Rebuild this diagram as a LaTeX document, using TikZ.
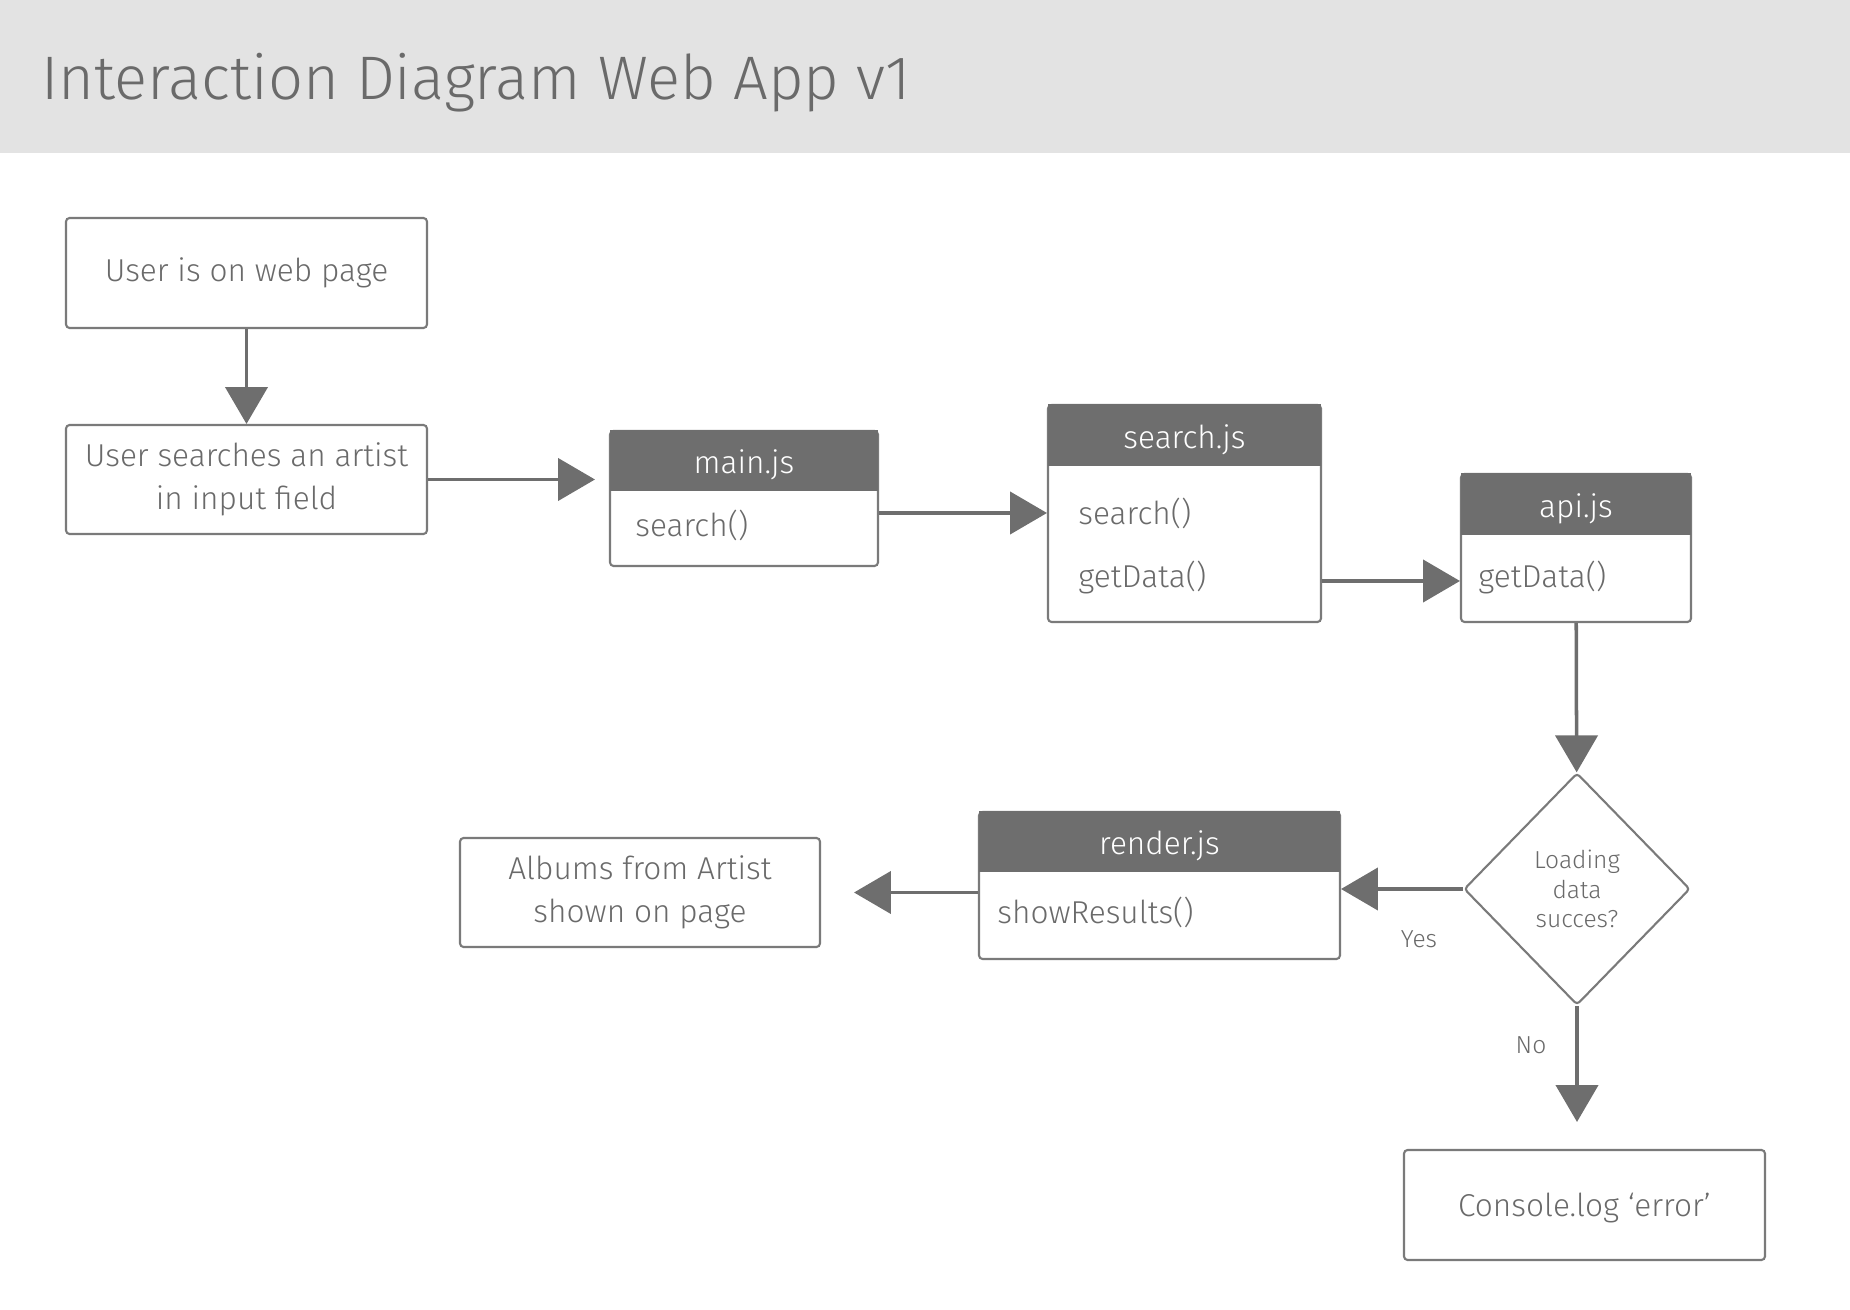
\documentclass[tikz,border=0pt]{standalone}
\usepackage{fontspec}
\setmainfont{Fira Sans Light}
\usetikzlibrary{arrows.meta,shapes.geometric,calc}
\definecolor{bannergray}{HTML}{E3E3E3}
\definecolor{headgray}{HTML}{6E6E6E}
\definecolor{textgray}{HTML}{6A6A6A}
\definecolor{linegray}{HTML}{7A7A7A}

\begin{document}
\begin{tikzpicture}[x=0.02cm,y=-0.02cm,
  box/.style={draw=linegray,line width=1.2pt,rounded corners=2pt,text=textgray,align=center,inner sep=0pt,font=\fontsize{18}{24.5}\selectfont},
  head/.style={fill=headgray,text=white,anchor=north,minimum height=1.22cm,inner sep=0pt,text height=14.6pt,text depth=0pt,font=\fontsize{18}{22}\selectfont},
  member/.style={anchor=west,text=textgray,inner sep=0pt,font=\fontsize{18}{22}\selectfont},
  flow/.style={draw=headgray,line width=2pt,-{Triangle[width=24pt,length=21pt]}},
  answer/.style={text=textgray,font=\fontsize{14}{17}\selectfont}]
\useasboundingbox (0,0) rectangle (1850,1310);
\fill[bannergray] (0,0) rectangle (1850,153);
\node[anchor=base west,inner sep=0pt,text=textgray,font=\fontsize{35}{40}\selectfont] (title) at (41,100) {Interaction Diagram Web App v1};

% start of the flow
\node[box,minimum width=7.22cm,minimum height=2.2cm] (start) at (246.5,273) {User is on web page};
\node[box,minimum width=7.22cm,minimum height=2.18cm] (query) at (246.5,479.5) {User searches an artist\\in input field};

% js files
\node[box,minimum width=5.36cm,minimum height=2.7cm] (mainjs) at (744,498.5) {};
\node[head,minimum width=5.36cm] (mainhead) at (mainjs.north) {main.js};
\node[member] (msearch) at (635,525) {search()};

\node[box,minimum width=5.46cm,minimum height=4.34cm] (searchjs) at (1184.5,513.5) {};
\node[head,minimum width=5.46cm,minimum height=1.24cm] (searchhead) at (searchjs.north) {search.js};
\node[member] (ssearch) at (1078,513) {search()};
\node[member] (sget) at (1078,578) {getData()};
\coordinate (datalink) at (1321,581);

\node[box,minimum width=4.6cm,minimum height=2.96cm] (apijs) at (1576,548) {};
\node[head,minimum width=4.6cm,minimum height=1.24cm] (apihead) at (apijs.north) {api.js};
\node[member] (aget) at (1478,578) {getData()};

\node[box,diamond,answer,minimum width=4.52cm,minimum height=4.64cm] (check) at (1577,889) {Loading\\data\\succes?};

\node[box,minimum width=7.22cm,minimum height=2.94cm] (renderjs) at (1159.5,885.5) {};
\node[head,minimum width=7.22cm] (renderhead) at (renderjs.north) {render.js};
\node[member] (rshow) at (997,912) {showResults()};

% end of the flow
\node[box,minimum width=7.2cm,minimum height=2.18cm] (albums) at (640,892.5) {Albums from Artist\\shown on page};
\node[box,minimum width=7.22cm,minimum height=2.2cm,text depth=0pt] (errorlog) at (1584.5,1205) {Console.log ‘error’};

\draw[flow] (start) -- (query);
\draw[flow,shorten >=0.28cm] (query.east) -- (mainjs.west |- query.east);
\draw[flow] (mainjs.east |- ssearch) -- (searchjs.west |- ssearch);
\draw[flow] (searchjs.east |- datalink) -- (apijs.west |- datalink);
\draw[flow] (apijs) -- (check);
\draw[flow] (check.west) -- (renderjs.east |- check.west);
\draw[flow,shorten >=0.66cm] (renderjs.west |- albums.east) -- (albums.east);
\draw[flow,shorten >=0.54cm] (check.south) -- (check.south |- errorlog.north);

\node[answer] (yes) at (1419,939) {Yes};
\node[answer] (no) at (1531,1045) {No};
\end{tikzpicture}
\end{document}
